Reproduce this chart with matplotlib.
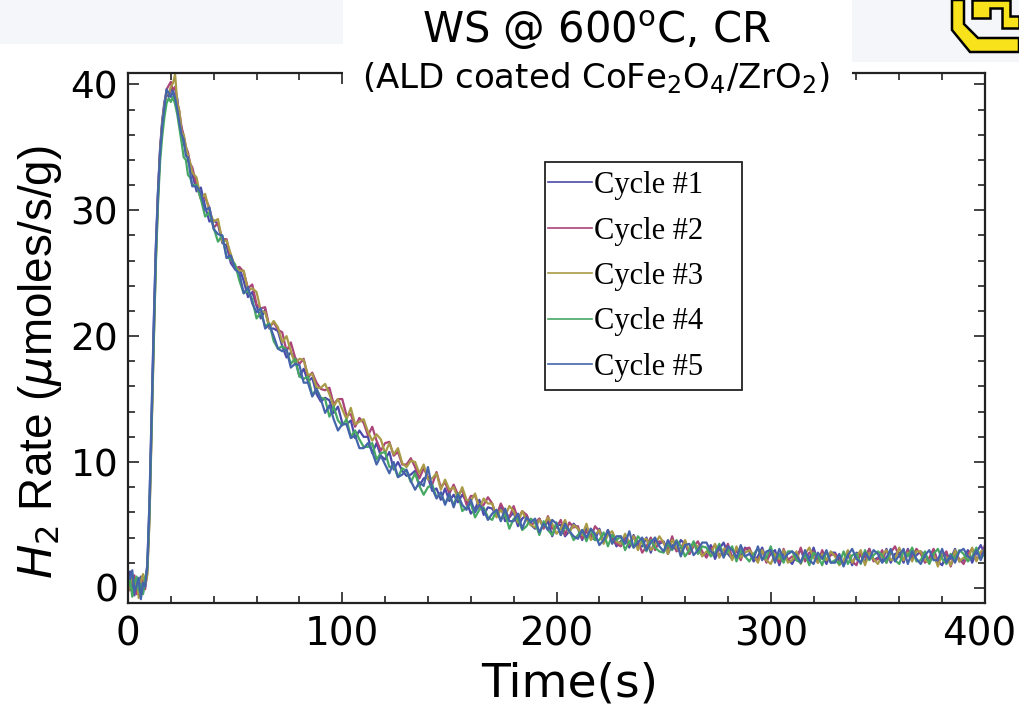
import numpy as np
import matplotlib
matplotlib.use("Agg")
import matplotlib.pyplot as plt
import matplotlib.transforms as mtransforms
from matplotlib.patches import Rectangle, Polygon
from matplotlib.lines import Line2D

plt.rcParams['mathtext.fontset'] = 'custom'
plt.rcParams['mathtext.rm'] = 'DejaVu Sans'
plt.rcParams['mathtext.it'] = 'DejaVu Sans:italic'

# sample times: 1 s through the rise, 2 s afterwards
time_s = np.concatenate([np.arange(0, 30), np.arange(30, 401, 2)])

cycle1 = [0.2, 1.3, 0.4, -0.6, 0.5, 0.1, 0.9, -0.4, 0.6, 1.8, 6.8, 14.0, 21.0, 27.2, 31.6,
          35.0, 37.2, 38.6, 39.3, 39.0, 39.7, 39.4, 38.6, 38.9, 37.0, 36.6, 35.2, 35.0, 33.9, 33.6,
          32.9, 31.5, 31.8, 30.3, 29.1, 29.2, 28.9, 27.4, 27.2, 25.8,
          25.3, 25.4, 24.4, 23.1, 23.5, 22.4, 21.4, 22.1, 20.6, 20.6,
          20.4, 19.2, 18.3, 18.7, 18.1, 16.8, 17.4, 16.4, 16.7, 15.4,
          14.8, 15.1, 14.9, 13.9, 14.4, 13.1, 13.0, 13.3, 11.9, 12.5,
          12.0, 12.0, 10.7, 11.5, 10.5, 10.2, 10.8, 9.4, 10.0, 9.3,
          8.9, 9.0, 9.3, 8.1, 8.7, 8.8, 7.7, 7.9, 7.0, 7.9,
          6.9, 7.4, 6.8, 7.4, 6.9, 5.9, 6.3, 7.0, 5.8, 6.4,
          6.3, 5.7, 6.6, 5.3, 5.6, 6.0, 4.9, 5.5, 5.8, 5.0,
          4.7, 5.5, 4.8, 5.3, 4.1, 5.0, 5.0, 4.1, 4.5, 5.1,
          4.7, 3.8, 4.8, 4.1, 3.8, 4.7, 3.7, 4.4, 4.1, 3.3,
          3.7, 4.0, 3.2, 4.2, 3.3, 3.3, 4.0, 2.8, 3.8, 3.5,
          3.7, 2.7, 3.4, 3.0, 3.8, 3.5, 2.7, 3.6, 3.0, 2.6,
          2.7, 3.4, 2.3, 3.1, 3.6, 2.7, 2.3, 3.1, 2.5, 3.2,
          2.9, 2.1, 2.5, 3.2, 2.2, 2.7, 3.0, 1.8, 2.8, 2.3,
          1.9, 2.6, 3.0, 2.2, 2.3, 3.2, 2.1, 2.6, 1.9, 2.8,
          2.8, 2.1, 1.9, 2.7, 1.8, 2.8, 2.6, 2.0, 3.1, 2.2,
          2.4, 2.1, 3.1, 2.0, 2.7, 2.8, 2.0, 3.1, 2.3, 2.6,
          2.9, 2.6, 2.0, 3.0, 2.1, 1.8, 2.7, 2.3, 3.1, 2.1,
          2.2, 3.0, 2.0, 2.8, 3.4, 2.6]

cycle2 = [0.5, -0.2, 0.8, 1.0, -0.5, 0.6, 0.2, 0.9, -0.1, 1.2, 5.5, 12.6, 19.8, 26.4, 31.3,
          34.8, 37.0, 38.4, 39.6, 39.9, 40.2, 39.5, 39.8, 38.6, 37.8, 36.6, 35.9, 35.0, 34.6, 33.7,
          33.4, 32.0, 30.9, 31.0, 30.2, 28.6, 29.0, 27.7, 27.7, 26.1,
          25.4, 25.5, 25.1, 23.8, 24.1, 22.5, 22.2, 22.3, 20.7, 21.1,
          20.5, 20.3, 18.8, 19.5, 18.3, 17.8, 18.2, 16.7, 17.1, 16.3,
          15.8, 15.7, 15.9, 14.6, 15.0, 15.0, 13.7, 13.8, 12.8, 13.5,
          13.1, 12.1, 12.8, 11.7, 10.9, 11.5, 11.6, 10.5, 10.8, 9.8,
          9.8, 10.3, 9.6, 8.7, 9.5, 8.8, 8.2, 9.2, 8.0, 8.4,
          7.5, 8.2, 7.4, 7.8, 6.6, 7.3, 7.3, 6.4, 6.6, 7.2,
          6.7, 5.7, 6.7, 6.0, 5.6, 6.5, 5.5, 6.1, 5.8, 5.0,
          5.2, 5.5, 4.7, 5.7, 4.7, 4.8, 5.4, 4.2, 5.2, 4.8,
          4.9, 3.9, 4.5, 4.0, 4.9, 4.5, 3.6, 4.6, 3.9, 3.5,
          3.3, 3.9, 3.4, 4.1, 3.7, 2.8, 3.3, 4.0, 3.0, 3.7,
          3.6, 3.1, 4.1, 2.9, 3.2, 3.7, 2.7, 3.3, 3.7, 2.9,
          2.4, 3.1, 3.4, 2.6, 2.7, 3.5, 2.4, 3.0, 2.2, 3.1,
          3.2, 2.4, 2.2, 2.9, 2.0, 3.0, 2.6, 2.0, 3.1, 2.2,
          2.5, 2.2, 3.2, 2.1, 2.8, 2.9, 2.0, 3.0, 2.2, 2.6,
          2.7, 2.4, 1.8, 2.9, 2.1, 1.8, 2.8, 2.4, 3.1, 2.1,
          2.3, 3.0, 2.0, 2.8, 3.3, 2.5, 2.2, 3.0, 2.5, 3.1,
          2.7, 2.0, 2.4, 3.1, 2.0, 2.5, 2.9, 1.7, 2.8, 2.3,
          1.9, 2.7, 3.1, 2.3, 2.5, 3.4]

cycle3 = [-0.3, 0.4, 1.0, 0.0, 0.7, -0.8, 0.5, 1.1, 0.2, 1.0, 5.2, 12.2, 19.5, 26.0, 30.9,
          34.6, 37.0, 38.3, 39.4, 39.2, 39.8, 40.1, 40.8, 38.5, 37.9, 36.2, 36.0, 35.1, 34.3, 33.8,
          33.0, 32.6, 30.9, 31.3, 29.9, 29.1, 29.3, 27.5, 27.6, 26.5,
          25.5, 25.2, 25.2, 23.6, 23.8, 23.5, 22.0, 21.9, 20.7, 21.2,
          20.7, 19.5, 20.0, 18.8, 17.8, 18.2, 18.1, 16.9, 17.0, 15.9,
          15.9, 16.2, 15.4, 14.4, 15.0, 14.2, 13.4, 14.3, 13.0, 13.2,
          13.4, 12.4, 11.7, 12.2, 11.8, 10.7, 11.5, 10.6, 11.1, 9.9,
          9.6, 10.1, 10.0, 9.1, 9.8, 8.6, 8.7, 9.1, 7.8, 8.6,
          7.8, 8.0, 7.1, 8.0, 7.0, 6.9, 7.5, 6.3, 7.1, 6.7,
          6.7, 5.6, 6.2, 5.7, 6.5, 6.1, 5.2, 6.1, 5.4, 5.0,
          4.8, 5.4, 4.9, 5.6, 5.1, 4.3, 4.7, 5.4, 4.4, 5.0,
          4.7, 4.2, 5.1, 3.8, 4.2, 4.6, 3.5, 4.2, 4.5, 3.7,
          3.5, 4.3, 3.6, 4.1, 3.0, 3.8, 3.9, 3.0, 3.4, 4.1,
          3.6, 2.7, 3.8, 3.2, 2.8, 3.8, 2.9, 3.5, 3.3, 2.5,
          2.9, 2.6, 3.5, 2.4, 3.1, 3.1, 2.2, 3.3, 2.4, 2.8,
          3.0, 2.6, 2.0, 3.0, 2.2, 1.9, 2.7, 2.3, 3.0, 2.0,
          2.2, 2.9, 1.9, 2.7, 3.2, 2.4, 2.0, 2.7, 2.2, 2.9,
          2.5, 1.8, 2.2, 3.0, 2.0, 2.5, 3.0, 1.8, 2.8, 2.3,
          1.9, 2.6, 3.0, 2.2, 2.3, 3.2, 2.2, 2.8, 2.1, 2.9,
          2.9, 2.2, 2.0, 2.7, 1.7, 2.7, 2.4, 1.8, 3.0, 2.1,
          2.4, 2.2, 3.2, 2.1, 2.9, 3.0]

cycle4 = [0.1, 0.6, -0.7, 0.4, 0.9, -0.2, 0.3, -0.5, 0.8, 1.4, 5.9, 12.8, 19.6, 25.8, 30.5,
          33.9, 35.9, 37.4, 38.5, 38.9, 38.6, 39.0, 38.4, 37.6, 36.5, 35.4, 34.2, 34.0, 32.8, 32.6,
          32.0, 32.0, 30.9, 29.5, 29.8, 28.6, 27.5, 28.0, 26.3, 26.1,
          25.7, 24.4, 23.4, 23.6, 22.9, 21.4, 21.9, 20.8, 21.0, 19.6,
          19.0, 19.2, 18.9, 17.8, 18.2, 16.8, 16.6, 16.8, 15.3, 15.8,
          15.1, 15.0, 13.6, 14.4, 13.3, 12.9, 13.4, 12.0, 12.5, 11.8,
          11.2, 11.2, 11.5, 10.2, 10.7, 10.8, 9.6, 9.7, 8.8, 9.5,
          9.3, 8.4, 9.1, 8.1, 7.4, 8.0, 8.2, 7.2, 7.5, 6.7,
          7.3, 6.6, 7.5, 6.1, 6.4, 6.7, 5.6, 6.2, 6.4, 5.6,
          5.4, 6.2, 5.4, 5.9, 4.7, 5.5, 5.5, 4.6, 4.9, 5.5,
          5.2, 4.2, 5.3, 4.6, 4.2, 5.2, 4.2, 4.8, 4.6, 3.8,
          4.2, 4.6, 3.7, 4.7, 3.8, 3.8, 4.4, 3.3, 4.2, 3.8,
          4.1, 3.0, 3.7, 3.2, 4.1, 3.7, 2.9, 3.8, 3.2, 2.9,
          2.8, 3.5, 3.0, 3.8, 3.3, 2.5, 3.0, 3.7, 2.7, 3.3,
          3.2, 2.5, 2.8, 3.5, 2.5, 2.9, 3.3, 2.1, 3.0, 2.5,
          2.1, 2.7, 3.1, 2.3, 2.4, 3.3, 2.1, 2.7, 2.0, 2.9,
          2.9, 2.2, 2.0, 2.7, 1.8, 2.8, 2.5, 1.8, 2.9, 2.0,
          2.2, 1.9, 2.9, 1.9, 2.6, 2.7, 1.9, 3.0, 2.2, 2.6,
          2.9, 2.6, 2.0, 3.0, 2.2, 1.9, 2.9, 2.5, 3.2, 2.1,
          2.2, 2.9, 1.9, 2.7, 3.1, 2.3, 1.9, 2.7, 2.3, 3.0,
          2.7, 2.1, 2.5, 3.2, 2.3, 2.8]

cycle5 = [1.0, 0.7, 1.4, -0.4, 0.2, 0.8, -0.9, 0.4, 0.1, 1.7, 6.4, 13.5, 20.4, 26.9, 31.3,
          34.7, 36.8, 38.2, 39.6, 39.3, 39.0, 39.5, 38.9, 38.0, 36.9, 36.0, 35.6, 34.3, 34.2, 33.0,
          31.9, 31.9, 31.4, 30.0, 30.2, 28.5, 28.1, 28.0, 26.2, 26.4,
          25.3, 25.0, 23.4, 23.9, 22.6, 21.9, 22.2, 20.6, 20.9, 20.0,
          19.0, 18.8, 18.9, 17.5, 17.8, 17.7, 16.3, 16.3, 15.2, 15.8,
          15.0, 13.9, 14.5, 13.4, 12.5, 13.0, 13.0, 11.9, 12.1, 11.1,
          11.1, 11.5, 10.8, 9.8, 10.5, 9.8, 9.1, 10.0, 8.8, 9.0,
          9.4, 8.5, 7.8, 8.4, 8.1, 9.6, 7.9, 7.1, 7.6, 6.6,
          7.5, 6.4, 7.4, 6.6, 6.2, 7.0, 6.0, 6.6, 6.2, 5.4,
          5.9, 6.2, 5.3, 6.3, 5.3, 5.3, 5.9, 4.7, 5.6, 5.2,
          5.5, 4.4, 5.1, 4.6, 5.4, 5.1, 4.2, 5.1, 4.5, 4.1,
          3.9, 4.6, 4.0, 4.7, 4.3, 3.4, 3.8, 4.6, 3.5, 4.1,
          4.1, 3.5, 4.5, 3.2, 3.6, 4.0, 3.0, 3.6, 4.0, 3.3,
          2.9, 3.8, 3.1, 3.7, 2.5, 3.4, 3.5, 2.6, 3.0, 3.6,
          3.6, 2.9, 2.6, 3.3, 2.4, 3.3, 3.0, 2.4, 3.4, 2.5,
          2.7, 2.3, 3.3, 2.2, 2.9, 3.0, 2.0, 3.1, 2.3, 2.7,
          2.9, 2.6, 2.0, 3.0, 2.2, 1.9, 2.8, 2.3, 3.0, 2.0,
          2.0, 2.7, 1.7, 2.6, 3.1, 2.3, 2.0, 2.8, 2.3, 3.0,
          2.7, 2.0, 2.4, 3.1, 2.1, 2.6, 3.1, 1.9, 2.9, 2.3,
          1.9, 2.6, 3.0, 2.2, 2.2, 3.1, 2.0, 2.6, 2.0, 2.9,
          3.1, 2.5, 2.3, 3.0, 2.2, 3.2]

labels = ['Cycle #1', 'Cycle #2', 'Cycle #3', 'Cycle #4', 'Cycle #5']
colors = ['#4a4aaa', '#aa4479', '#a89a46', '#46a862', '#4565ab']

W, H = 1019, 711
fig = plt.figure(figsize=(W / 100, H / 100), dpi=100)
ax = fig.add_axes([128 / W, 1 - 603 / H, (985 - 128) / W, (603 - 73) / H])

for ys, c in zip([cycle1, cycle2, cycle3, cycle4, cycle5], colors):
    ax.plot(time_s, ys, color=c, lw=1.6)

ax.set_xlim(0, 400)
ax.set_ylim(-1.2, 40.9)
ax.set_xticks([0, 100, 200, 300, 400])
ax.set_xticks(np.arange(0, 401, 20), minor=True)
ax.set_yticks([0, 10, 20, 30, 40])
ax.set_yticks(np.arange(0, 41, 2), minor=True)
ax.tick_params(which='both', direction='in', top=True, right=True, width=1.2, color='#222222')
ax.tick_params(which='major', length=8)
ax.tick_params(which='minor', length=5)
ax.tick_params(axis='x', labelsize=28, pad=9)
ax.tick_params(axis='y', labelsize=27, pad=7)
for s in ax.spines.values():
    s.set_linewidth(1.6)
    s.set_color('#222222')

# last x label sits a little inside the edge, as in the slide
last = ax.xaxis.get_major_ticks()[-1].label1
last.set_transform(last.get_transform() + mtransforms.ScaledTranslation(-6 / 100, 0, fig.dpi_scale_trans))

fig.text(570 / W, 1 - 684 / H, 'Time(s)', ha='center', va='center', fontsize=34)
fig.text(40 / W, 1 - 362 / H, r'$\mathit{H}_2$ Rate ($\mathit{\mu}$moles/s/g)',
         rotation=90, ha='center', va='center', fontsize=33, family='Liberation Sans')

# light band at the top of the slide
fig.patches.append(Rectangle((0, 1 - 44 / H), 1, 44 / H, transform=fig.transFigure,
                             facecolor='#f5f6f9', edgecolor='none', zorder=1))
fig.patches.append(Rectangle((850 / W, 1 - 62 / H), 169 / W, 62 / H, transform=fig.transFigure,
                             facecolor='#f5f6f9', edgecolor='none', zorder=1))
# white title box that covers the top frame
fig.patches.append(Rectangle((343 / W, 1 - 100 / H), 509 / W, 100 / H, transform=fig.transFigure,
                             facecolor='white', edgecolor='none', zorder=3))
fig.text(596 / W, 1 - 30 / H, r'WS @ 600$^{\rm o}$C, CR', ha='center', va='center',
         fontsize=30, zorder=4)
fig.text(596 / W, 1 - 78 / H, r'(ALD coated CoFe$_2$O$_4$/ZrO$_2$)', ha='center', va='center',
         fontsize=24.5, zorder=4)

# logo corner
logo_c = [(952, 0), (952, 30), (970, 52), (1019, 52), (1019, 38), (978, 38), (964, 24), (964, 0)]
logo_u = [(972, 0), (972, 18), (990, 18), (990, 8), (1002, 8), (1002, 28), (1019, 28),
          (1019, 16), (1010, 16), (1010, 0)]
for poly in [logo_c, logo_u]:
    fig.patches.append(Polygon([(x / W, 1 - y / H) for x, y in poly], closed=True,
                               transform=fig.transFigure, facecolor='#f7e21b',
                               edgecolor='black', lw=1.8, zorder=3))

# legend with its own frame
fig.patches.append(Rectangle((545 / W, 1 - 390 / H), 197 / W, 228 / H, transform=fig.transFigure,
                             facecolor='white', edgecolor='#222222', lw=1.3, zorder=3))
handles = [Line2D([], [], color=c, lw=1.2) for c in colors]
leg = fig.legend(handles, labels, loc='upper left', bbox_to_anchor=(548 / W, 1 - 171 / H),
                 bbox_transform=fig.transFigure, frameon=False, borderpad=0, borderaxespad=0,
                 handlelength=1.44, handletextpad=0.05, labelspacing=0.54,
                 prop={'family': 'Liberation Serif', 'size': 22})
leg.set_zorder(4)

fig.savefig('out.png', dpi=100)
